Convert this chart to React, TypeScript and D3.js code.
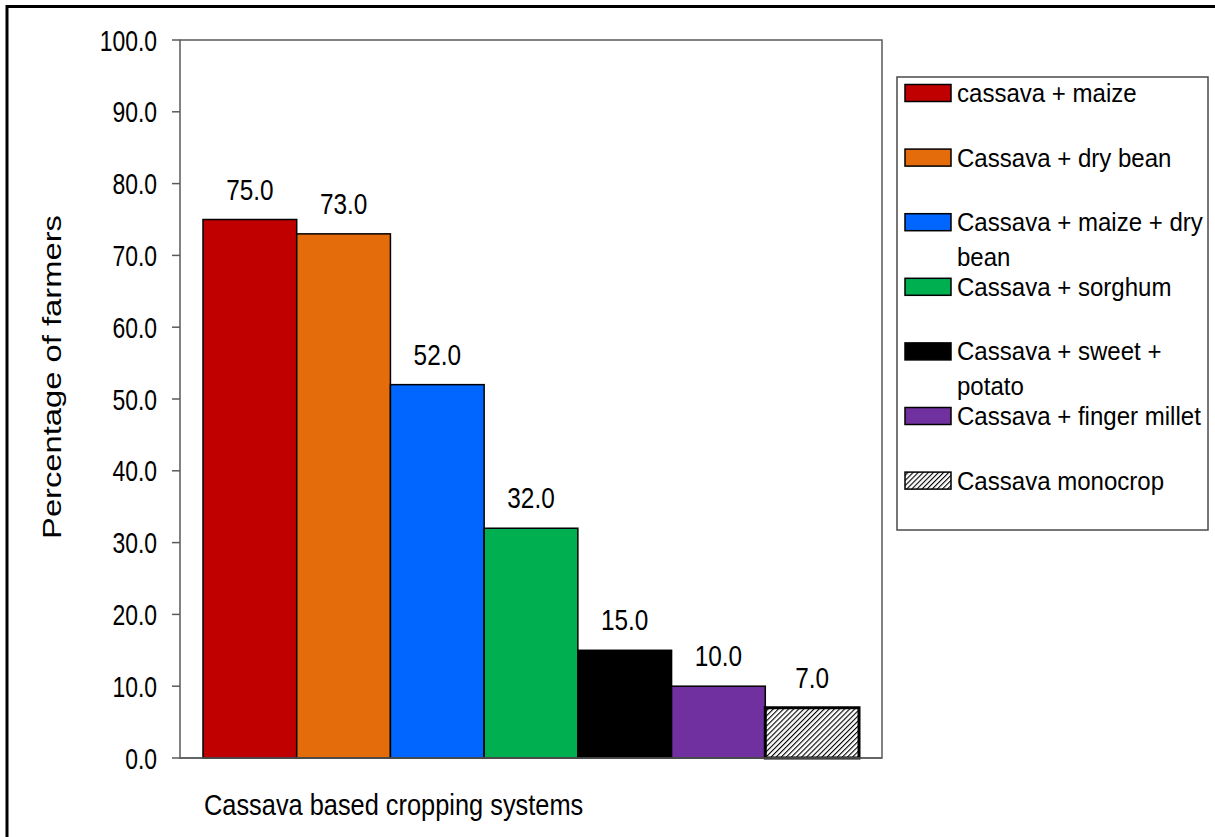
import React from 'react';
import * as d3 from 'd3';

const categories = [
  'cassava + maize',
  'Cassava + dry bean',
  'Cassava + maize + dry bean',
  'Cassava + sorghum',
  'Cassava + sweet + potato',
  'Cassava + finger millet',
  'Cassava monocrop',
];
const values = [75.0, 73.0, 52.0, 32.0, 15.0, 10.0, 7.0];
const colors = ['#C00000', '#E46C0A', '#0066FF', '#00B050', '#000000', '#7030A0', 'url(#hatch)'];
const legendLines = [
  ['cassava + maize'],
  ['Cassava + dry bean'],
  ['Cassava + maize + dry', 'bean'],
  ['Cassava + sorghum'],
  ['Cassava + sweet +', 'potato'],
  ['Cassava + finger millet'],
  ['Cassava monocrop'],
];
const yTicks = [0, 10, 20, 30, 40, 50, 60, 70, 80, 90, 100];

const FONT = '"Liberation Sans", Arial, sans-serif';

const T = ({ x, y, sx = 1, rot = 0, size, anchor = 'start', children }: any) => (
  <text
    transform={`translate(${x},${y}) rotate(${rot}) scale(${sx},1)`}
    fontSize={size}
    textAnchor={anchor}
    fontFamily={FONT}
    fill="#000"
  >
    {children}
  </text>
);

const App = () => {
  const W = 1215;
  const H = 837;
  const plot = { left: 180, top: 40, right: 882, bottom: 758 };

  const y = d3.scaleLinear().domain([0, 100]).range([plot.bottom, plot.top]);
  const x = d3.scaleBand<string>().domain(categories).range([203, 859]).paddingInner(0);

  const legendX = 905;
  const legendY0 = 93;
  const legendStep = 64.6;

  return (
    <svg
      width={W}
      height={H}
      style={{ position: 'absolute', left: 0, top: 0, background: '#fff' }}
    >
      <defs>
        <pattern id="hatch" patternUnits="userSpaceOnUse" width="3.6" height="3.6" patternTransform="rotate(45)">
          <rect width="3.6" height="3.6" fill="#fff" />
          <line x1="0" y1="0" x2="0" y2="3.6" stroke="#000" strokeWidth="2.2" />
        </pattern>
      </defs>

      {/* outer frame (only top and left visible) */}
      <line x1={7} y1={6.5} x2={W} y2={6.5} stroke="#000" strokeWidth={3} />
      <line x1={7} y1={5} x2={7} y2={H} stroke="#000" strokeWidth={3} />

      {/* plot frame */}
      <rect
        x={plot.left}
        y={plot.top}
        width={plot.right - plot.left}
        height={plot.bottom - plot.top}
        fill="none"
        stroke="#5a5a5a"
        strokeWidth={1.5}
      />

      {/* y ticks */}
      {yTicks.map((t) => (
        <g key={t}>
          <line x1={172} x2={plot.left} y1={y(t)} y2={y(t)} stroke="#5a5a5a" strokeWidth={1.5} />
          <T x={157} y={y(t) + 10.5} size={29} sx={0.79} anchor="end">
            {t.toFixed(1)}
          </T>
        </g>
      ))}

      {/* bars */}
      {categories.map((c, i) => (
        <g key={c}>
          <rect
            x={x(c)}
            y={y(values[i])}
            width={x.bandwidth()}
            height={y(0) - y(values[i])}
            fill={colors[i]}
            stroke="#000"
            strokeWidth={i === 6 ? 3 : 1.5}
          />
          <T x={(x(c) as number) + x.bandwidth() / 2} y={y(values[i]) - 20} size={29} sx={0.84} anchor="middle">
            {values[i].toFixed(1)}
          </T>
        </g>
      ))}

      {/* redraw baseline over bars */}
      <line x1={plot.left} x2={plot.right} y1={plot.bottom} y2={plot.bottom} stroke="#5a5a5a" strokeWidth={1.5} />

      {/* axis titles */}
      <T x={61} y={377} rot={-90} size={25} sx={1.31} anchor="middle">
        Percentage of farmers
      </T>
      <T x={204} y={815} size={29} sx={0.875}>
        Cassava based cropping systems
      </T>

      {/* legend */}
      <rect x={897} y={77} width={311} height={453} fill="#fff" stroke="#4a4a4a" strokeWidth={1.5} />
      {legendLines.map((lines, i) => {
        const cy = legendY0 + i * legendStep;
        return (
          <g key={i}>
            <rect
              x={legendX}
              y={cy - 8.5}
              width={46}
              height={17}
              fill={colors[i]}
              stroke="#000"
              strokeWidth={1.5}
            />
            {lines.map((l, j) => (
              <T key={j} x={957} y={cy + 9 + j * 35} size={26} sx={0.925}>
                {l}
              </T>
            ))}
          </g>
        );
      })}
    </svg>
  );
};

export default App;
